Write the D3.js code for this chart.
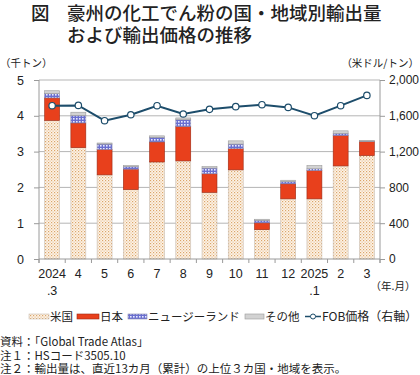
<!DOCTYPE html>
<html>
<head>
<meta charset="utf-8">
<script src="https://cdn.jsdelivr.net/npm/d3@7/dist/d3.min.js"></script>
<style>
  body { margin: 0; background: #fff; }
  svg { display: block; font-family: "Noto Sans CJK JP", "Noto Sans", sans-serif; }
</style>
</head>
<body>
<script>
// data: thousand tons, stacked, and FOB price (USD/ton)
var months1 = ['2024', '4', '5', '6', '7', '8', '9', '10', '11', '12', '2025', '2', '3'];
var months2 = ['.3', '', '', '', '', '', '', '', '', '', '.1', '', ''];
var usa     = [3.87, 3.11, 2.35, 1.94, 2.71, 2.74, 1.86, 2.49, 0.82, 1.68, 1.68, 2.60, 2.89];
var japan   = [0.63, 0.69, 0.71, 0.57, 0.56, 0.96, 0.52, 0.59, 0.19, 0.42, 0.79, 0.85, 0.39];
var nz      = [0.12, 0.21, 0.15, 0.07, 0.13, 0.19, 0.16, 0.13, 0.07, 0.06, 0.05, 0.06, 0.01];
var other   = [0.08, 0.09, 0.03, 0.03, 0.04, 0.05, 0.04, 0.09, 0.03, 0.04, 0.09, 0.07, 0.02];
var fob     = [1713, 1716, 1545, 1612, 1713, 1620, 1672, 1702, 1724, 1694, 1601, 1713, 1828];
var leftTicks = [0, 1, 2, 3, 4, 5];
var rightTicks = [0, 400, 800, 1200, 1600, 2000];

var W = 420, H = 375;
var pL = 39, pR = 380, pT = 80, pB = 259;

var svg = d3.select('body').append('svg')
    .attr('width', W)
    .attr('height', H);

var defs = svg.append('defs');

// dotted fill for USA
var pUS = defs.append('pattern').attr('id', 'pUS')
    .attr('width', 3).attr('height', 3).attr('patternUnits', 'userSpaceOnUse');
pUS.append('rect').attr('width', 3).attr('height', 3).attr('fill', '#fdf4e8');
pUS.append('rect').attr('x', 0).attr('y', 0).attr('width', 1.2).attr('height', 1.2).attr('fill', '#dba56a');
pUS.append('rect').attr('x', 1.5).attr('y', 1.5).attr('width', 1.2).attr('height', 1.2).attr('fill', '#e8c096');

// checkered fill for NZ
var pNZ = defs.append('pattern').attr('id', 'pNZ')
    .attr('width', 3).attr('height', 3).attr('patternUnits', 'userSpaceOnUse');
pNZ.append('rect').attr('width', 3).attr('height', 3).attr('fill', '#6a6fd0');
pNZ.append('rect').attr('x', 1).attr('y', 1).attr('width', 1.6).attr('height', 1.6).attr('fill', '#e8eaff');

var x = d3.scaleBand()
    .domain(d3.range(months1.length))
    .range([pL, pR])
    .paddingInner(0.43)
    .paddingOuter(0.215);

var y = d3.scaleLinear().domain([0, 5]).range([pB, pT]);
var y2 = d3.scaleLinear().domain([0, 2000]).range([pB, pT]);

// gridlines
svg.append('g').selectAll('line')
    .data(leftTicks.slice(1))
    .enter()
    .append('line')
    .attr('x1', pL).attr('x2', pR)
    .attr('y1', function(d){ return y(d); })
    .attr('y2', function(d){ return y(d); })
    .attr('stroke', '#b5b5b5')
    .attr('stroke-width', 1);

// title
var title = svg.append('g').attr('fill', '#222').attr('font-size', 18.5).attr('font-weight', 500);
title.append('text').attr('x', 31).attr('y', 20).text('図');
title.append('text').attr('x', 67).attr('y', 20).text('豪州の化工でん粉の国・地域別輸出量');
title.append('text').attr('x', 67).attr('y', 41.5).text('および輸出価格の推移');

// unit labels
svg.append('text').attr('x', 0).attr('y', 67).attr('font-size', 10.5).attr('fill', '#222').text('（千トン）');
svg.append('text').attr('x', 419).attr('y', 67).attr('font-size', 10.5).attr('fill', '#222')
    .attr('text-anchor', 'end').text('（米ドル/トン）');

// stacked bars
var series = [
    { name: '米国', values: usa, fill: 'url(#pUS)', stroke: '#c9bfb4' },
    { name: '日本', values: japan, fill: '#e8401c', stroke: '#9c2a14' },
    { name: 'ニュージーランド', values: nz, fill: 'url(#pNZ)', stroke: '#8a8ab0' },
    { name: 'その他', values: other, fill: '#d2d2d2', stroke: '#9a9a9a' }
];

var base = months1.map(function(){ return 0; });
series.forEach(function(s){
    var start = base.slice();
    svg.append('g').selectAll('rect')
        .data(s.values)
        .enter()
        .append('rect')
        .attr('x', function(d, i){ return x(i); })
        .attr('width', x.bandwidth())
        .attr('y', function(d, i){ return y(start[i] + d); })
        .attr('height', function(d, i){ return y(start[i]) - y(start[i] + d); })
        .attr('fill', s.fill)
        .attr('stroke', s.stroke)
        .attr('stroke-width', 0.6);
    s.values.forEach(function(v, i){ base[i] += v; });
});

// axes lines
svg.append('line').attr('x1', pL).attr('x2', pL).attr('y1', pT).attr('y2', pB + 4)
    .attr('stroke', '#9a9a9a');
svg.append('line').attr('x1', pR).attr('x2', pR).attr('y1', pT).attr('y2', pB + 4)
    .attr('stroke', '#9a9a9a');
svg.append('line').attr('x1', pL).attr('x2', pR).attr('y1', pB).attr('y2', pB)
    .attr('stroke', '#9a9a9a');

// left axis
var yAxis = d3.axisLeft(y).tickValues(leftTicks).tickSize(5).tickPadding(10)
    .tickFormat(d3.format('d'));
var gl = svg.append('g').attr('transform', 'translate(' + pL + ',0)').call(yAxis);
gl.select('.domain').remove();
gl.selectAll('line').attr('stroke', '#9a9a9a');
gl.selectAll('text').attr('font-size', 12.5).attr('fill', '#222')
    .attr('font-family', 'Arial, "Liberation Sans", sans-serif');

// right axis
var yAxis2 = d3.axisRight(y2).tickValues(rightTicks).tickSize(5).tickPadding(4)
    .tickFormat(d3.format(','));
var gr = svg.append('g').attr('transform', 'translate(' + pR + ',0)').call(yAxis2);
gr.select('.domain').remove();
gr.selectAll('line').attr('stroke', '#9a9a9a');
gr.selectAll('text').attr('font-size', 12).attr('fill', '#222')
    .attr('font-family', 'Arial, "Liberation Sans", sans-serif');

// x ticks between bands
svg.append('g').selectAll('line')
    .data(d3.range(months1.length + 1))
    .enter()
    .append('line')
    .attr('x1', function(d){ return pL + d * x.step(); })
    .attr('x2', function(d){ return pL + d * x.step(); })
    .attr('y1', pB).attr('y2', pB + 4)
    .attr('stroke', '#9a9a9a');

// x labels
var xl = svg.append('g').attr('font-size', 12.5).attr('fill', '#222')
    .attr('font-family', 'Arial, "Liberation Sans", sans-serif')
    .attr('text-anchor', 'middle');
xl.selectAll('text.l1')
    .data(months1)
    .enter()
    .append('text')
    .attr('class', 'l1')
    .attr('x', function(d, i){ return x(i) + x.bandwidth() / 2; })
    .attr('y', 278)
    .text(function(d){ return d; });
xl.selectAll('text.l2')
    .data(months2)
    .enter()
    .append('text')
    .attr('class', 'l2')
    .attr('x', function(d, i){ return x(i) + x.bandwidth() / 2; })
    .attr('y', 295)
    .text(function(d){ return d; });
svg.append('text').attr('x', 393).attr('y', 290).attr('text-anchor', 'middle')
    .attr('font-size', 10.5).attr('fill', '#222').text('（年.月）');

// FOB line
var line = d3.line()
    .x(function(d, i){ return x(i) + x.bandwidth() / 2; })
    .y(function(d){ return y2(d); });
svg.append('path')
    .datum(fob)
    .attr('d', line)
    .attr('fill', 'none')
    .attr('stroke', '#1d4d6b')
    .attr('stroke-width', 2);
svg.append('g').selectAll('circle')
    .data(fob)
    .enter()
    .append('circle')
    .attr('cx', function(d, i){ return x(i) + x.bandwidth() / 2; })
    .attr('cy', function(d){ return y2(d); })
    .attr('r', 3.2)
    .attr('fill', '#fff')
    .attr('stroke', '#1d4d6b')
    .attr('stroke-width', 1.2);

// legend
var lg = svg.append('g').attr('font-size', 11.5).attr('fill', '#222');
var legendItems = [
    { x: 29, w: 20, fill: 'url(#pUS)', stroke: '#c9bfb4', text: '米国', tx: 50 },
    { x: 77, w: 22, fill: '#e8401c', stroke: '#9c2a14', text: '日本', tx: 100 },
    { x: 128, w: 19, fill: 'url(#pNZ)', stroke: '#8a8ab0', text: 'ニュージーランド', tx: 148 },
    { x: 245, w: 19, fill: '#d2d2d2', stroke: '#9a9a9a', text: 'その他', tx: 265 }
];
legendItems.forEach(function(d){
    lg.append('rect').attr('x', d.x).attr('y', 314).attr('width', d.w).attr('height', 5)
        .attr('fill', d.fill).attr('stroke', d.stroke).attr('stroke-width', 0.6);
    lg.append('text').attr('x', d.tx).attr('y', 321).text(d.text);
});
lg.append('line').attr('x1', 305).attr('x2', 321).attr('y1', 316.5).attr('y2', 316.5)
    .attr('stroke', '#1d4d6b').attr('stroke-width', 1.5);
lg.append('circle').attr('cx', 313).attr('cy', 316.5).attr('r', 2.5)
    .attr('fill', '#fff').attr('stroke', '#1d4d6b').attr('stroke-width', 1);
lg.append('text').attr('x', 322).attr('y', 321).attr('font-size', 12).text('FOB価格（右軸）');

// notes
var notes = ['資料：「Global Trade Atlas」', '注１：HSコード3505.10', '注２：輸出量は、直近13カ月（累計）の上位３カ国・地域を表示。'];
svg.append('g').attr('font-size', 11.5).attr('fill', '#222')
    .selectAll('text')
    .data(notes)
    .enter()
    .append('text')
    .attr('x', 0)
    .attr('y', function(d, i){ return 346 + i * 13.5; })
    .text(function(d){ return d; });
</script>
</body>
</html>
